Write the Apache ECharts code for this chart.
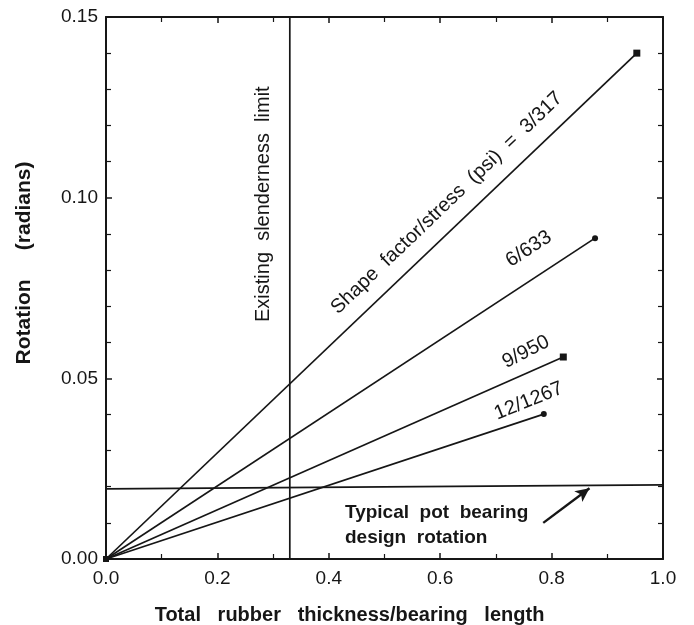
<!DOCTYPE html>
<html>
<head>
<meta charset="utf-8">
<script src="https://cdn.jsdelivr.net/npm/echarts@6/dist/echarts.min.js"></script>
<style>
  html, body { margin: 0; padding: 0; background: #fff; }
  #chart { width: 694px; height: 625px; }
</style>
</head>
<body>
<div id="chart"></div>
<script>
// end points of each rotation line (all start at the origin)
const seriesNames = ['3/317', '6/633', '9/950', '12/1267'];
const xEnds = [0.953, 0.878, 0.821, 0.786];
const yEnds = [0.140, 0.0888, 0.0559, 0.0401];
const endSymbols = ['rect', 'circle', 'rect', 'circle'];

const slendernessLimit = 0.33;
const potBearingRotation = [0.0194, 0.0205]; // at x = 0 and x = 1 (scan is slightly tilted)
const arrowFrom = [0.785, 0.0100];
const arrowTo = [0.868, 0.0196];

const xTicks = [0, 0.2, 0.4, 0.6, 0.8, 1.0];
const yTicks = [0, 0.05, 0.10, 0.15];

const FONT = '"Liberation Sans", Arial, sans-serif';
const INK = '#161616';

const chart = echarts.init(document.getElementById('chart'));

const baseAxis = {
    type: 'value',
    axisLine: { show: true, onZero: false, lineStyle: { color: INK, width: 2 } },
    axisTick: { show: true, inside: true, length: 6, lineStyle: { color: INK, width: 1.5 } },
    minorTick: { show: true, length: 5, lineStyle: { color: INK, width: 1.2 } },
    splitLine: { show: false },
    minorSplitLine: { show: false }
};

const lineSeries = seriesNames.map((name, i) => ({
    name: name,
    type: 'line',
    data: [
        { value: [0, 0], symbol: 'rect', symbolSize: 6 },
        { value: [xEnds[i], yEnds[i]], symbol: endSymbols[i], symbolSize: endSymbols[i] === 'rect' ? 7 : 6 }
    ],
    showSymbol: true,
    itemStyle: { color: INK },
    lineStyle: { color: INK, width: 1.7 },
    silent: true,
    z: 3
}));

chart.setOption({
    animation: false,
    backgroundColor: '#fff',
    grid: { left: 106, right: 31, top: 17, bottom: 66, outerBoundsMode: 'none', containLabel: false },
    xAxis: [
        Object.assign({}, baseAxis, {
            min: 0, max: 1, interval: 0.2,
            minorTick: Object.assign({}, baseAxis.minorTick, { splitNumber: 2 }),
            axisLabel: {
                color: INK, fontFamily: FONT, fontSize: 19, margin: 10,
                formatter: v => xTicks.some(t => Math.abs(t - v) < 1e-9) ? v.toFixed(1) : ''
            },
            name: 'Total   rubber   thickness/bearing   length',
            nameLocation: 'middle',
            nameGap: 46,
            nameTextStyle: { color: INK, fontFamily: FONT, fontSize: 20, fontWeight: 'bold', padding: [0, 70, 0, 0] }
        }),
        Object.assign({}, baseAxis, {
            position: 'top', min: 0, max: 1, interval: 0.2,
            minorTick: Object.assign({}, baseAxis.minorTick, { splitNumber: 2 }),
            axisLabel: { show: false }
        })
    ],
    yAxis: [
        Object.assign({}, baseAxis, {
            min: 0, max: 0.15, interval: 0.05,
            minorTick: Object.assign({}, baseAxis.minorTick, { splitNumber: 5 }),
            axisLabel: {
                color: INK, fontFamily: FONT, fontSize: 19, margin: 8,
                formatter: v => yTicks.some(t => Math.abs(t - v) < 1e-9) ? v.toFixed(2) : ''
            },
            name: 'Rotation     (radians)',
            nameLocation: 'middle',
            nameGap: 71,
            nameTextStyle: { color: INK, fontFamily: FONT, fontSize: 21, fontWeight: 'bold', padding: [0, 0, 0, 50] }
        }),
        Object.assign({}, baseAxis, {
            position: 'right', min: 0, max: 0.15, interval: 0.05,
            minorTick: Object.assign({}, baseAxis.minorTick, { splitNumber: 5 }),
            axisLabel: { show: false }
        })
    ],
    series: lineSeries.concat([
        {
            name: 'slenderness',
            type: 'line',
            data: [[slendernessLimit, 0], [slendernessLimit, 0.15]],
            showSymbol: false,
            lineStyle: { color: INK, width: 1.7 },
            silent: true
        },
        {
            name: 'pot bearing',
            type: 'line',
            data: [[0, potBearingRotation[0]], [1, potBearingRotation[1]]],
            showSymbol: false,
            lineStyle: { color: INK, width: 1.7 },
            silent: true,
            markLine: {
                silent: true,
                symbol: ['none', 'arrow'],
                symbolSize: [10, 14],
                label: { show: false },
                lineStyle: { color: INK, width: 2.4, type: 'solid' },
                data: [[{ coord: arrowFrom }, { coord: arrowTo }]]
            }
        }
    ])
});

// text annotations placed in data coordinates
const notes = [
    { text: 'Shape  factor/stress  (psi)  =  3/317', at: [0.612, 0.0985], angle: 43.7 },
    { text: '6/633', at: [0.759, 0.0858], angle: 33 },
    { text: '9/950', at: [0.754, 0.0573], angle: 27 },
    { text: '12/1267', at: [0.759, 0.0437], angle: 22 },
    { text: 'Existing  slenderness  limit', at: [0.282, 0.0982], angle: 90 }
];

const graphics = notes.map(n => {
    const p = chart.convertToPixel({ gridIndex: 0 }, n.at);
    return {
        type: 'text',
        x: p[0], y: p[1],
        rotation: n.angle * Math.PI / 180,
        silent: true,
        style: {
            text: n.text, fill: INK, font: '20px ' + FONT,
            align: 'center', verticalAlign: 'middle'
        }
    };
});

const potPos = chart.convertToPixel({ gridIndex: 0 }, [0.429, 0.0163]);
graphics.push({
    type: 'text',
    x: potPos[0], y: potPos[1],
    silent: true,
    style: {
        text: 'Typical  pot  bearing\ndesign  rotation',
        fill: INK, font: 'bold 19px ' + FONT,
        lineHeight: 25, align: 'left', verticalAlign: 'top'
    }
});

chart.setOption({ graphic: graphics });
</script>
</body>
</html>
